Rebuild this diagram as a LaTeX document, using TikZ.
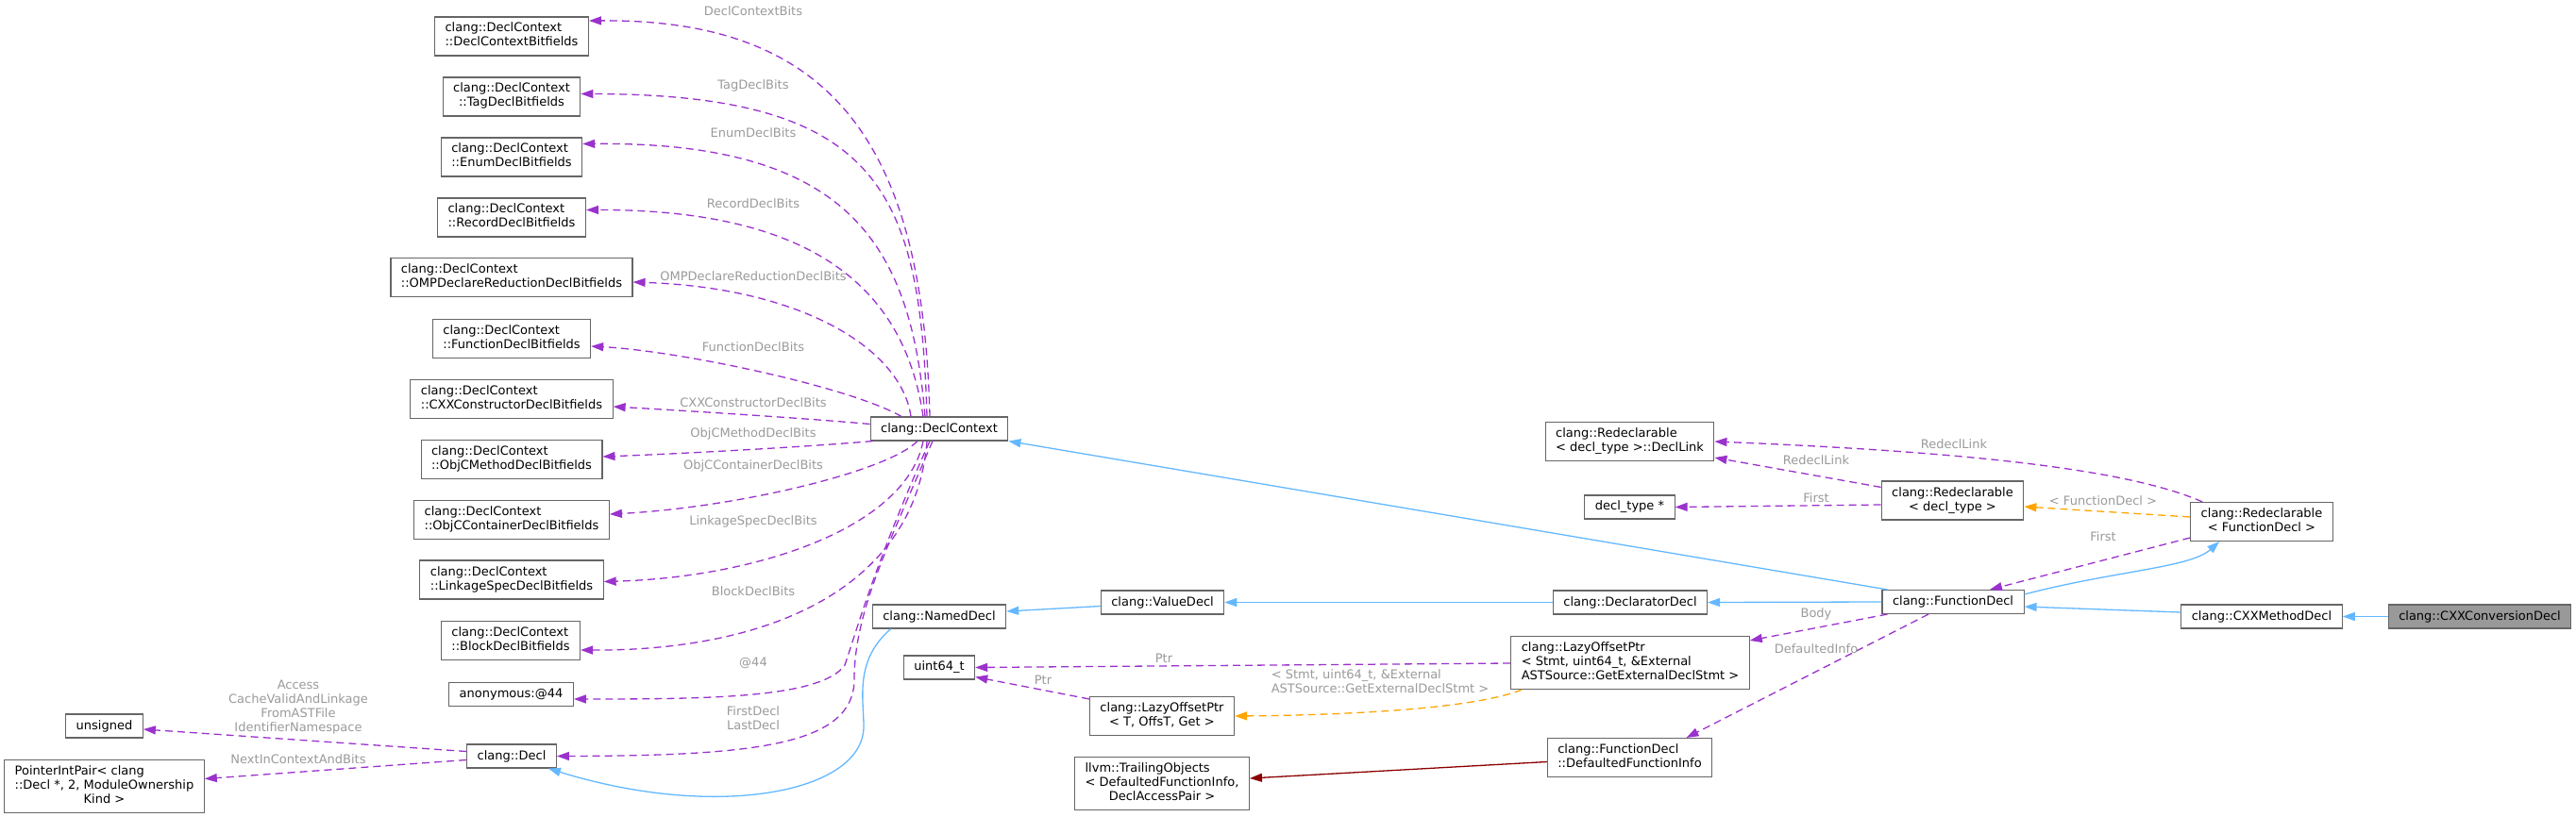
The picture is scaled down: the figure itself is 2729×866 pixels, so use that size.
\documentclass[tikz,border=0pt]{standalone}
\usepackage{fontspec}
\setmainfont{DejaVu Sans}
\usepackage{tikz}
\usetikzlibrary{arrows.meta,calc}
\definecolor{usepurple}{HTML}{9A32CD}
\definecolor{inhblue}{HTML}{63B8FF}
\definecolor{tmplorange}{HTML}{FFA500}
\definecolor{privred}{HTML}{8B0000}
\definecolor{boxgray}{HTML}{666666}
\definecolor{labelgray}{HTML}{9A9A9A}
\definecolor{hlgray}{HTML}{999999}
% last line centred, the others left, as doxygen sets them
\newcommand{\dlines}[2]{\begin{tabular}{@{}l@{}}#1\\\multicolumn{1}{@{}c@{}}{#2}\end{tabular}}
\tikzset{
  cls/.style={draw=boxgray, fill=white, line width=0.55pt, inner xsep=5.5pt, inner ysep=2.75pt,
    minimum height=12.5pt, font=\fontsize{6.5}{7.5}\selectfont},
  hlcls/.style={cls, fill=hlgray},
  elabel/.style={text=labelgray, inner sep=0pt, align=center, font=\fontsize{6.5}{7.5}\selectfont},
  tip/.style={-{Triangle[length=6.5pt,width=4.5pt]}},
  usage/.style={tip, draw=usepurple, line width=0.65pt, dash pattern=on 4pt off 2.5pt},
  inherit/.style={tip, draw=inhblue, line width=0.65pt},
  tmpl/.style={tip, draw=tmplorange, line width=0.65pt, dash pattern=on 4pt off 2.5pt},
  privinh/.style={tip, draw=privred, line width=0.65pt}
}
\begin{document}
\begin{tikzpicture}[x=0.5pt, y=-0.5pt]
  \useasboundingbox (0,0) rectangle (2729,866);

  % bit-field column
  \node[cls] (dcb) at (542,38.5) {\dlines{clang::DeclContext}{::DeclContextBitfields}};
  \node[cls] (tagb) at (542,102.5) {\dlines{clang::DeclContext}{::TagDeclBitfields}};
  \node[cls] (enumb) at (542,166.5) {\dlines{clang::DeclContext}{::EnumDeclBitfields}};
  \node[cls] (recb) at (542,230.5) {\dlines{clang::DeclContext}{::RecordDeclBitfields}};
  \node[cls] (ompb) at (542,294) {\dlines{clang::DeclContext}{::OMPDeclareReductionDeclBitfields}};
  \node[cls] (funcb) at (542,359) {\dlines{clang::DeclContext}{::FunctionDeclBitfields}};
  \node[cls] (ctorb) at (542,423) {\dlines{clang::DeclContext}{::CXXConstructorDeclBitfields}};
  \node[cls] (objcmb) at (542,487) {\dlines{clang::DeclContext}{::ObjCMethodDeclBitfields}};
  \node[cls] (objccb) at (542,551) {\dlines{clang::DeclContext}{::ObjCContainerDeclBitfields}};
  \node[cls] (linkb) at (542,614.5) {\dlines{clang::DeclContext}{::LinkageSpecDeclBitfields}};
  \node[cls] (blockb) at (541,679) {\dlines{clang::DeclContext}{::BlockDeclBitfields}};
  \node[cls] (anon) at (541.5,736) {anonymous:@44};
  \node[cls] (decl) at (542,801.5) {clang::Decl};
  \node[cls] (unsig) at (110.5,769.5) {unsigned};
  \node[cls] (pip) at (110.5,833.5) {\dlines{PointerIntPair< clang\\::Decl *, 2, ModuleOwnership}{Kind >}};

  % middle
  \node[cls] (dc) at (995,454.5) {clang::DeclContext};
  \node[cls] (named) at (995,653.5) {clang::NamedDecl};
  \node[cls] (uint) at (995,707.5) {uint64\_t};
  \node[cls] (valued) at (1231.5,638.5) {clang::ValueDecl};
  \node[cls] (lazyt) at (1231,759) {\dlines{clang::LazyOffsetPtr}{< T, OffsT, Get >}};
  \node[cls] (trail) at (1231,830.5) {\dlines{llvm::TrailingObjects\\< DefaultedFunctionInfo,}{DeclAccessPair >}};
  \node[cls] (dlink) at (1726.5,468) {\dlines{clang::Redeclarable}{< decl\_type >::DeclLink}};
  \node[cls] (dtype) at (1726.5,537.5) {decl\_type *};
  \node[cls] (declarator) at (1727,638.5) {clang::DeclaratorDecl};
  \node[cls] (lazystmt) at (1727,702.5) {\dlines{clang::LazyOffsetPtr\\< Stmt, uint64\_t, \&External}{ASTSource::GetExternalDeclStmt >}};
  \node[cls] (definfo) at (1726.5,803) {\dlines{clang::FunctionDecl}{::DefaultedFunctionInfo}};

  % right
  \node[cls] (redt) at (2068.5,530.5) {\dlines{clang::Redeclarable}{< decl\_type >}};
  \node[cls] (fd) at (2069,638) {clang::FunctionDecl};
  \node[cls] (redf) at (2396,553) {\dlines{clang::Redeclarable}{< FunctionDecl >}};
  \node[cls] (method) at (2396,653.5) {clang::CXXMethodDecl};
  \node[hlcls] (conv) at (2627,653.5) {clang::CXXConversionDecl};

  % members of DeclContext
  \draw[usage] ($(dc.north)+(-10,0)$) .. controls (978,150) and (880,20) .. ($(dcb.east)+(0,-16.5)$);
  \draw[usage] ($(dc.north)+(-13,0)$) .. controls (975,200) and (930,100) .. ($(tagb.east)+(0,-3)$);
  \draw[usage] ($(dc.north)+(-15,0)$) .. controls (965,260) and (900,150) .. ($(enumb.east)+(0,-14)$);
  \draw[usage] ($(dc.north)+(-17,0)$) .. controls (960,320) and (880,222) .. ($(recb.east)+(0,-8)$);
  \draw[usage] ($(dc.north)+(-30,0)$) .. controls (955,370) and (850,305) .. ($(ompb.east)+(0,5)$);
  \draw[usage] ($(dc.north)+(-40,0)$) .. controls (900,410) and (720,372) .. ($(funcb.east)+(0,8)$);
  \draw[usage] ($(dc.west)+(0,-5)$) .. controls (850,443) and (720,435) .. ($(ctorb.east)+(0,8)$);
  \draw[usage] ($(dc.south west)+(3,0)$) .. controls (850,474) and (720,481) .. ($(objcmb.east)+(0,-3)$);
  \draw[usage] ($(dc.south)+(-23,0)$) .. controls (940,500) and (780,538) .. ($(objccb.east)+(0,-6)$);
  \draw[usage] ($(dc.south)+(-17,0)$) .. controls (960,560) and (800,612) .. ($(linkb.east)+(0,2)$);
  \draw[usage] ($(dc.south)+(-13,0)$) .. controls (970,620) and (820,690) .. ($(blockb.east)+(0,10)$);
  \draw[usage] ($(dc.south)+(-10,0)$) .. controls (930,590) and (910,660) .. (895,705)
    .. controls (870,740) and (750,741) .. ($(anon.east)+(0,5)$);
  \draw[usage] ($(dc.south)+(-7,0)$) .. controls (940,580) and (905,650) .. (905,720)
    .. controls (905,790) and (800,801) .. (decl.east);

  \node[elabel] (ldcb) at (798,12) {DeclContextBits};
  \node[elabel] (ltagb) at (798,91) {TagDeclBits};
  \node[elabel] (lenumb) at (798,141) {EnumDeclBits};
  \node[elabel] (lrecb) at (798,216) {RecordDeclBits};
  \node[elabel] (lompb) at (798,293) {OMPDeclareReductionDeclBits};
  \node[elabel] (lfuncb) at (798,368) {FunctionDeclBits};
  \node[elabel] (lctorb) at (798,427) {CXXConstructorDeclBits};
  \node[elabel] (lobjcmb) at (798,460) {ObjCMethodDeclBits};
  \node[elabel] (lobjccb) at (798,494) {ObjCContainerDeclBits};
  \node[elabel] (llinkb) at (798,553) {LinkageSpecDeclBits};
  \node[elabel] (lblockb) at (798,627) {BlockDeclBits};
  \node[elabel] (lanon) at (798,703) {@44};
  \node[elabel] (ldecl) at (798,761) {FirstDecl\\LastDecl};

  % members of Decl
  \draw[usage] ($(decl.west)+(0,-5)$) -- ($(unsig.east)+(0,3.5)$);
  \draw[usage] ($(decl.west)+(0,4)$) -- ($(pip.east)+(0,-8)$);
  \node[elabel] (lunsig) at (316,750) {Access\\CacheValidAndLinkage\\FromASTFile\\IdentifierNamespace};
  \node[elabel] (lpip) at (316,805) {NextInContextAndBits};

  % inheritance
  \draw[inherit] ($(named.south west)+(20,0)$) .. controls (905,700) and (915,740) .. (915,770)
    .. controls (915,840) and (760,870) .. ($(decl.south east)+(-9,0)$);
  \draw[inherit] ($(valued.west)+(0,4)$) -- ($(named.east)+(0,-5.5)$);
  \draw[inherit] (declarator.west) -- (valued.east);
  \draw[inherit] (fd.west) -- (declarator.east);
  \draw[inherit] ($(fd.north west)+(6,0)$) -- (dc.south east);
  \draw[inherit] ($(fd.east)+(0,-8)$) .. controls (2240,605) and (2320,602) .. ($(redf.south west)+(31,0)$);
  \draw[inherit] ($(method.west)+(0,-4.5)$) -- ($(fd.east)+(0,5)$);
  \draw[inherit] (conv.west) -- (method.east);

  % members of FunctionDecl
  \draw[usage] ($(fd.south west)+(6,0)$) -- ($(lazystmt.north east)+(0,5)$);
  \draw[usage] ($(fd.south)+(-26,0)$) -- ($(definfo.north)+(60,0)$);
  \node[elabel] (lbody) at (1924,651) {Body};
  \node[elabel] (ldefinfo) at (1924,688) {DefaultedInfo};

  % LazyOffsetPtr
  \draw[usage] ($(lazystmt.west)+(0,0.5)$) -- (uint.east);
  \draw[usage] ($(lazyt.north west)+(0,3)$) -- ($(uint.south east)+(0,-3)$);
  \draw[tmpl] ($(lazystmt.south west)+(12,0)$) .. controls (1560,752) and (1420,758) .. (lazyt.east);
  \node[elabel] (lptra) at (1233,698) {Ptr};
  \node[elabel] (lptrb) at (1105,721) {Ptr};
  \node[elabel, align=left] (llazy) at (1462,722) {< Stmt, uint64\_t, \&External\\ASTSource::GetExternalDeclStmt >};

  \draw[privinh] ($(definfo.west)+(0,4.5)$) -- ($(trail.east)+(0,-5.5)$);

  % Redeclarable
  \draw[usage] ($(redt.north west)+(0,7)$) -- ($(dlink.south east)+(0,-4)$);
  \draw[usage] ($(redt.west)+(0,4.5)$) -- (dtype.east);
  \draw[usage] ($(redf.north west)+(13,0)$) .. controls (2250,495) and (2060,478) .. (dlink.east);
  \draw[tmpl] ($(redf.west)+(0,-5)$) -- ($(redt.east)+(0,6.5)$);
  \draw[usage] ($(redf.west)+(0,17)$) -- ($(fd.north)+(39,0)$);
  \node[elabel] (lredfl) at (2070,471) {RedeclLink};
  \node[elabel] (lredtl) at (1924,488) {RedeclLink};
  \node[elabel] (lfirstt) at (1924,528) {First};
  \node[elabel] (ltmplf) at (2228,531) {< FunctionDecl >};
  \node[elabel] (lfirstf) at (2228,569) {First};
\end{tikzpicture}
\end{document}
